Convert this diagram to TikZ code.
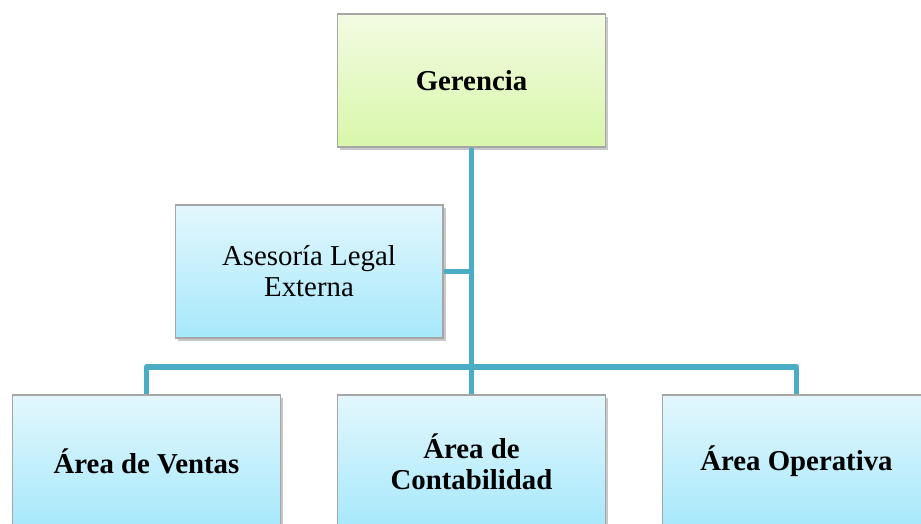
\documentclass[tikz,border=0pt]{standalone}
\usepackage{fontspec}
\setmainfont{Liberation Serif}
\usepackage{tikz}
\usetikzlibrary{shadows,positioning}

\definecolor{linkteal}{HTML}{4BACC6}
\definecolor{greentop}{HTML}{F3FBE2}
\definecolor{greenbot}{HTML}{D8F7AA}
\definecolor{bluetop}{HTML}{E3F7FD}
\definecolor{bluebot}{HTML}{A6E8FB}

\begin{document}
\begin{tikzpicture}[x=0.02cm, y=-0.02cm,
		box/.style={draw=black!35, line width=0.6pt, minimum width=5.36cm, minimum height=2.66cm,
			inner sep=0pt, align=center, font=\fontsize{16.4pt}{17.6pt}\selectfont,
			drop shadow={shadow xshift=1.5pt, shadow yshift=-1.5pt, opacity=0.3, fill=black!70}},
		greenbox/.style={box, top color=greentop, bottom color=greenbot},
		bluebox/.style={box, top color=bluetop, bottom color=bluebot},
		link/.style={draw=linkteal, line width=2.9pt, line join=round}]
		\clip (0,0) rectangle (921,524);
		\fill[white] (0,0) rectangle (921,524);
		\coordinate (bus) at (471.5,367);
		\node[greenbox] (ger) at (471.5,80.5) {\bfseries Gerencia};
		\node[bluebox] (ase) at (309,271.5) {Asesoría Legal\\Externa};
		\node[bluebox] (vent) at (146.5,461.5) {\bfseries Área de Ventas};
		\node[bluebox] (cont) at (471.5,461.5) {\bfseries Área de\\\bfseries Contabilidad};
		\node[bluebox] (oper) at (796.5,461.5) {\bfseries Área Operativa};
		% connectors
		\draw[link] (ger.south) -- (cont.north);
		\draw[link] (vent.north) |- (bus) -| (oper.north);
		\draw[link] (ase.east) -- (ase.east -| ger.south);
	\end{tikzpicture}
\end{document}
